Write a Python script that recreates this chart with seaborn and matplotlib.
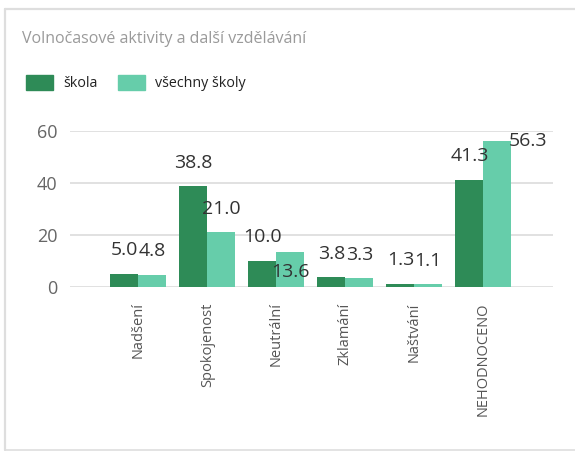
import matplotlib
matplotlib.use("Agg")
import matplotlib.pyplot as plt
from matplotlib.lines import Line2D
import pandas as pd
import seaborn as sns

# Data
categories = ["Nadšení", "Spokojenost", "Neutrální", "Zklamání", "Naštvání", "NEHODNOCENO"]
skola = [5.0, 38.8, 10.0, 3.8, 1.3, 41.3]
vsechny_skoly = [4.8, 21.0, 13.6, 3.3, 1.1, 56.3]
series_names = ["škola", "všechny školy"]
title = "Volnočasové aktivity a další vzdělávání"
y_ticks = [0, 20, 40, 60]

df = pd.DataFrame({
    "kategorie": categories * 2,
    "hodnota": skola + vsechny_skoly,
    "serie": [series_names[0]] * len(categories) + [series_names[1]] * len(categories),
})

sns.set_theme(style="white")
plt.rcParams["font.family"] = ["Open Sans", "DejaVu Sans"]

DPI = 100
fig = plt.figure(figsize=(5.75, 4.51), dpi=DPI)
W, H = 575, 451

def fx(px):
    return px / W

def fy(py):
    return 1 - py / H

ax = fig.add_axes([fx(70), fy(287), fx(553) - fx(70), fy(131) - fy(287)])

colors = {series_names[0]: "#2E8B57", series_names[1]: "#66CDAA"}
sns.barplot(data=df, x="kategorie", y="hodnota", hue="serie", palette=colors,
            order=categories, hue_order=series_names, width=0.81,
            errorbar=None, ax=ax, saturation=1, linewidth=0)

ax.set_xlim(-0.99, 6.01)
ax.set_ylim(0, 60)
ax.set_yticks(y_ticks)
ax.set_yticklabels([str(t) for t in y_ticks])
ax.set_xlabel("")
ax.set_ylabel("")
for s in ax.spines.values():
    s.set_visible(False)
ax.grid(axis="y", color="#E1E1E1", linewidth=1.4)
ax.set_axisbelow(True)
ax.tick_params(axis="y", length=0, pad=9, labelsize=13, labelcolor="#666666")
ax.tick_params(axis="x", length=0, pad=11, labelsize=10.5, labelcolor="#555555",
               labelrotation=90)

# Value labels above each bar; a few are nudged to avoid collisions
nudges = {
    ("Neutrální", "všechny školy"): (0, -32),
    ("NEHODNOCENO", "všechny školy"): (22, -17),
}
for name, container in zip(series_names, ax.containers):
    for cat, bar in zip(categories, container):
        val = bar.get_height()
        dx, dy = nudges.get((cat, name), (0, 0))
        ax.annotate(f"{val:.1f}",
                    xy=(bar.get_x() + bar.get_width() / 2, val),
                    xytext=(dx, 17 + dy), textcoords="offset points",
                    ha="center", va="center", fontsize=14, color="#333333",
                    annotation_clip=False)

# Legend
handles = [plt.Rectangle((0, 0), 1, 1, color=colors[n]) for n in series_names]
ax.legend().remove()
fig.legend(handles, series_names, loc="upper left",
           bbox_to_anchor=(fx(26), fy(75)), ncol=2, frameon=False,
           fontsize=10.3, handlelength=1.9, handleheight=1.2,
           handletextpad=0.7, columnspacing=1.4, borderpad=0, borderaxespad=0,
           labelcolor="#222222")

# Title
fig.text(fx(22), fy(39), title, ha="left", va="center", fontsize=11.5, color="#9A9A9A")

# Card outline
card = "#DEDEDE"
fig.add_artist(Line2D([fx(4.5), 1], [fy(9), fy(9)], color=card, lw=1.6))
fig.add_artist(Line2D([fx(4.5), fx(4.5)], [fy(9), fy(449.5)], color=card, lw=1.6))
fig.add_artist(Line2D([fx(4.5), 1], [fy(449.5), fy(449.5)], color=card, lw=1.2))

fig.savefig("out.png", dpi=DPI)
